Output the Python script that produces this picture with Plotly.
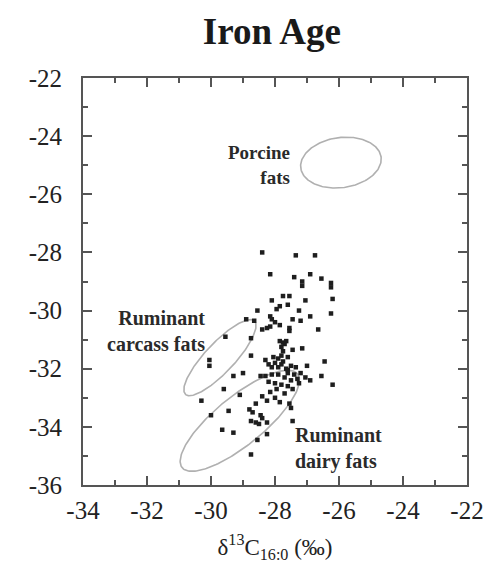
import numpy as np
import plotly.graph_objects as go

# ---- data ----
x_ticks = [-34, -32, -30, -28, -26, -24, -22]
x_tick_labels = ["-34", "-32", "-30", "-28", "-26", "-24", "-22"]
y_ticks = [-36, -34, -32, -30, -28, -26, -24, -22]
y_tick_labels = ["-36", "-34", "-32", "-30", "-28", "-26", "-24", "-22"]

sample_x = [
    -28.4, -27.35, -26.75, -28.15, -27.4, -27.15, -27.15, -26.9, -26.55, -26.25,
    -26.25, -26.2, -26.25, -26.65, -26.9, -27.05, -27.25, -27.45, -27.2, -27.75,
    -27.55, -28.1, -27.85, -27.6, -27.95, -28.55, -28.15, -28.1, -28.9, -28.65,
    -28.4, -28.25, -28.15, -28.0, -27.85, -27.55, -27.55, -28.75, -29.55, -30.05,
    -30.05, -28.75,
    -27.85, -27.75, -27.7, -27.65, -27.8, -27.45, -27.15, -27.8, -27.9, -28.05,
    -27.75, -28.0, -28.2, -28.1, -27.9, -27.8, -27.65, -27.5, -27.6, -27.4,
    -27.2, -27.0, -26.9, -26.45, -26.55, -26.2, -27.05, -27.3, -27.5, -27.7,
    -27.9, -28.1, -28.3, -28.45, -28.2, -28.0, -27.8, -27.6, -27.45, -27.95,
    -28.15, -28.4, -28.25, -27.85, -27.55, -27.5, -27.45, -28.0, -27.7, -29.0,
    -29.3, -29.6, -29.1, -30.3, -30.0, -29.45, -28.8, -28.7, -28.45, -28.4,
    -28.75, -28.6, -28.5, -28.25, -29.65, -29.3, -28.25, -28.55, -28.75, -27.6,
    -27.75, -27.6, -28.3, -27.35, -27.25, -28.6,
]
sample_y = [
    -28.0, -28.1, -28.1, -28.75, -28.85, -29.0, -29.15, -28.75, -28.9, -29.05,
    -29.2, -29.6, -30.1, -30.65, -30.2, -29.65, -30.0, -30.3, -30.35, -29.5,
    -29.5, -29.65, -29.85, -29.8, -29.95, -30.0, -30.2, -30.3, -30.3, -30.35,
    -30.65, -30.6, -30.55, -30.4, -30.5, -30.6, -30.7, -30.95, -30.9, -31.7,
    -31.9, -31.55,
    -31.05, -31.1, -31.15, -31.05, -31.25, -31.35, -31.3, -31.55, -31.65, -31.6,
    -31.75, -31.8, -31.85, -31.95, -31.95, -31.85, -32.0, -31.9, -32.15, -32.2,
    -32.15, -31.9, -32.4, -31.75, -32.25, -32.55, -32.3, -32.35, -32.4, -32.3,
    -32.2, -32.2, -32.25, -32.25, -32.45, -32.5, -32.55, -32.6, -32.7, -32.7,
    -32.8, -32.95, -33.1, -33.15, -33.2, -33.35, -33.8, -33.0, -32.85, -32.15,
    -32.25, -32.7, -32.9, -33.1, -33.6, -33.45, -33.4, -33.5, -33.6, -33.7,
    -33.8, -33.85, -33.9, -33.85, -34.1, -34.2, -34.25, -34.45, -34.95, -32.05,
    -31.4, -31.6, -31.7, -31.95, -32.5, -33.2,
]

# reference ellipses: centre x, centre y, semi-major, semi-minor, angle (deg)
ellipse_names = ["Porcine fats", "Ruminant carcass fats", "Ruminant dairy fats"]
ellipse_cx = [-25.94, -29.72, -29.1]
ellipse_cy = [-24.91, -31.62, -33.79]
ellipse_a = [1.27, 1.66, 2.42]
ellipse_b = [0.86, 0.48, 0.8]
ellipse_angle = [10, 50, 42.5]

label_texts = ["<b>Porcine</b><br><b>fats</b>",
               "<b>Ruminant</b><br><b>carcass fats</b>",
               "<b>Ruminant</b><br><b>dairy fats</b>"]
label_x = [-27.47, -30.12, -27.45]
label_y = [-24.98, -30.7, -34.76]

fig = go.Figure()

t = np.linspace(0, 2 * np.pi, 200)
for name, cx, cy, a, b, ang in zip(ellipse_names, ellipse_cx, ellipse_cy,
                                   ellipse_a, ellipse_b, ellipse_angle):
    th = np.deg2rad(ang)
    ex = cx + a * np.cos(t) * np.cos(th) - b * np.sin(t) * np.sin(th)
    ey = cy + a * np.cos(t) * np.sin(th) + b * np.sin(t) * np.cos(th)
    fig.add_trace(go.Scatter(x=ex, y=ey, mode="lines", name=name,
                             line=dict(color="#b0b0b0", width=1.6),
                             hoverinfo="skip"))

fig.add_trace(go.Scatter(x=sample_x, y=sample_y, mode="markers", name="Iron Age",
                         marker=dict(symbol="square", size=4.5, color="#1e1e1e")))

serif = "Liberation Serif, Times New Roman, serif"

fig.add_annotation(x=label_x[0], y=label_y[0], text=label_texts[0], showarrow=False,
                   xanchor="right", yanchor="middle", align="right",
                   font=dict(family=serif, size=19, color="#2a2a2a"))
fig.add_annotation(x=label_x[1], y=label_y[1], text=label_texts[1], showarrow=False,
                   xanchor="right", yanchor="middle", align="right",
                   font=dict(family=serif, size=20, color="#2a2a2a"))
fig.add_annotation(x=label_x[2], y=label_y[2], text=label_texts[2], showarrow=False,
                   xanchor="left", yanchor="middle", align="left",
                   font=dict(family=serif, size=20, color="#2a2a2a"))

axis_common = dict(
    showgrid=False, zeroline=False, showline=True, linecolor="#555", linewidth=2,
    mirror="allticks", ticks="inside", ticklen=9, tickwidth=1.5, tickcolor="#555",
    tickfont=dict(family=serif, size=25, color="#222"), automargin=False,
)

fig.update_xaxes(range=[-34, -22], tickvals=x_ticks, ticktext=x_tick_labels,
                 minor=dict(dtick=1, tick0=-34, ticks="inside", ticklen=5,
                            tickcolor="#555", tickwidth=1.5),
                 ticklabelstandoff=2,
                 title=dict(text="δ<sup>13</sup>C<sub>16:0</sub> (‰)",
                            font=dict(family=serif, size=23, color="#222"),
                            standoff=16),
                 **axis_common)
fig.update_yaxes(range=[-36, -22], tickvals=y_ticks, ticktext=y_tick_labels,
                 minor=dict(dtick=1, tick0=-36, ticks="inside", ticklen=5,
                            tickcolor="#555", tickwidth=1.5),
                 ticklabelstandoff=14,
                 **axis_common)

# the page body adds an 8 px offset, so the figure is 8 px smaller each way
fig.update_layout(
    width=486, height=573,
    margin=dict(l=75, r=27, t=70, b=96),
    paper_bgcolor="white", plot_bgcolor="white",
    showlegend=False,
    title=dict(text="<b>Iron Age</b>", x=0.543, xanchor="center", y=0.96, yanchor="middle",
               font=dict(family=serif, size=37, color="#1a1a1a")),
)

fig.write_html("out.html")
